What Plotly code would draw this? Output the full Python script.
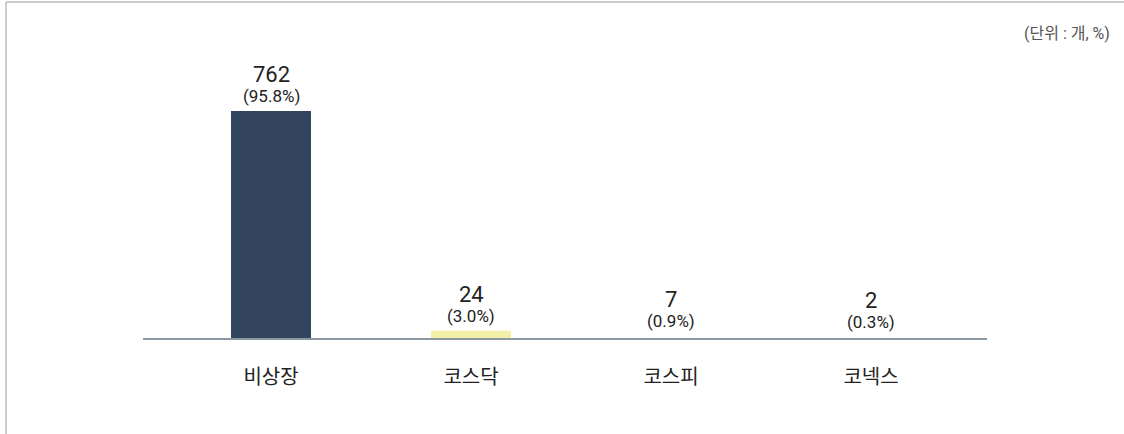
import plotly.graph_objects as go

categories = ["비상장", "코스닥", "코스피", "코넥스"]
counts = [762, 24, 7, 2]
percent_labels = ["(95.8%)", "(3.0%)", "(0.9%)", "(0.3%)"]
bar_colors = ["#33445e", "#f2f0a6", "#ffffff", "#ffffff"]

W, H = 1124, 434
ML, MR, MT, MB = 143, 137, 40, 96
PW, PH = W - ML - MR, H - MT - MB

fig = go.Figure()
fig.add_trace(go.Bar(
    x=list(range(len(categories))), y=counts,
    marker=dict(color=bar_colors, line=dict(width=0)),
    width=0.4, hoverinfo="skip",
))

font_fam = "Roboto, 'Noto Sans CJK KR', sans-serif"
anns = []
for i, (c, p) in enumerate(zip(counts, percent_labels)):
    anns.append(dict(x=i, y=c, xref="x", yref="y", text=p, showarrow=False,
                     yanchor="bottom", yshift=3,
                     font=dict(size=17, color="#222222", family=font_fam)))
    anns.append(dict(x=i, y=c, xref="x", yref="y", text=str(c), showarrow=False,
                     yanchor="bottom", yshift=22,
                     font=dict(size=22, color="#222222", family=font_fam)))
anns.append(dict(x=(1112 - ML) / PW, y=(H - MB - 34) / PH, xref="paper", yref="paper",
                 text="(단위 : 개, %)", showarrow=False, xanchor="right", yanchor="middle",
                 font=dict(size=16, color="#555555", family=font_fam)))

shapes = [
    dict(type="line", xref="paper", yref="paper",
         x0=(6 - ML) / PW, x1=(6 - ML) / PW, y0=(H - MB - 434) / PH, y1=(H - MB - 2) / PH,
         line=dict(color="#bcbcbc", width=1.5)),
    dict(type="line", xref="paper", yref="paper",
         x0=(6 - ML) / PW, x1=(1124 - ML) / PW, y0=(H - MB - 2) / PH, y1=(H - MB - 2) / PH,
         line=dict(color="#bcbcbc", width=1.5)),
]

fig.update_layout(
    width=W, height=H,
    margin=dict(l=ML, r=MR, t=MT, b=MB, pad=0),
    paper_bgcolor="white", plot_bgcolor="white",
    showlegend=False, hovermode=False,
    annotations=anns, shapes=shapes,
    xaxis=dict(range=[-0.64, 3.58], tickmode="array",
               tickvals=list(range(len(categories))), ticktext=categories,
               showgrid=False, zeroline=False, showline=True,
               linecolor="#8a99a3", linewidth=1.5, ticks="",
               ticklabelstandoff=20, fixedrange=True,
               tickfont=dict(size=20, color="#222222", family=font_fam)),
    yaxis=dict(range=[0, 1000], visible=False, showgrid=False, zeroline=False,
               fixedrange=True),
)

fig.write_html("out.html", config={"displayModeBar": False},
               post_script="document.body.style.margin='0';")
